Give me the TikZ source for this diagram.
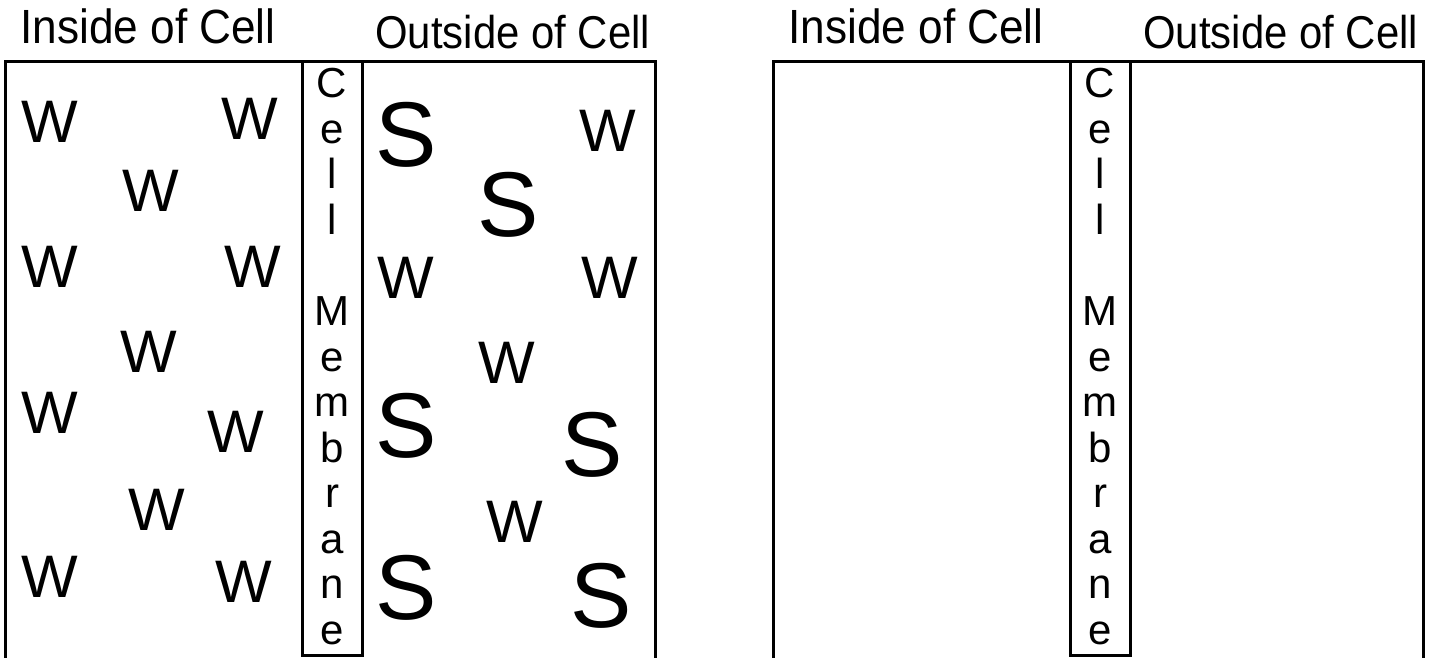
\documentclass[tikz,border=0pt]{standalone}
\usepackage{fontspec}
\setmainfont{Liberation Sans}
\tikzset{
  frame/.style={line width=1.5pt},
  insidelabel/.style={anchor=base west, inner sep=0pt, font=\fontsize{24}{28}\selectfont},
  outsidelabel/.style={anchor=base west, inner sep=0pt, font=\fontsize{23}{27}\selectfont},
  water/.style={anchor=base, inner sep=0pt, font=\fontsize{30}{36}\selectfont},
  solute/.style={anchor=base, inner sep=0pt, font=\fontsize{46}{55}\selectfont},
  memletter/.style={anchor=base, inner sep=0pt, font=\fontsize{21}{25}\selectfont},
}
\begin{document}
\begin{tikzpicture}[x=0.5pt,y=-0.5pt]
  \useasboundingbox (0,0) rectangle (1431,658);
  \def \memx {332}; % milieu de la membrane
  \def \gap {45.5}; % pas entre les lettres
  % deux panneaux, celui de droite reste vide
  \foreach \p/\dx in {a/0,b/768} {
    \draw[frame] ({5+\dx},658) |- ({655+\dx},62) -- ({655+\dx},658);
    \draw[frame] ({302+\dx},62) rectangle ({362+\dx},655);
    \node[insidelabel] (in-\p) at ({20+\dx},44) {\scalebox{0.92}[1]{Inside of Cell}};
    \node[outsidelabel] (out-\p) at ({375+\dx},49) {\scalebox{0.91}[1]{Outside of Cell}};
    \foreach \ch [count=\i] in {C,e,l,l,{},M,e,m,b,r,a,n,e}
      \node[memletter] (mem-\p-\i) at ({\memx+\dx},{98+(\i-1)*\gap}) {\ch};
  }
  % eau dans la cellule
  \foreach \x/\y [count=\i] in {49.5/143, 250/140, 151/212, 49.5/287, 253/287,
      148.5/372, 49.5/433, 235.5/452, 157/530, 49.5/597, 244/602}
    \node[water] (win-\i) at (\x,\y) {W};
  % eau hors de la cellule
  \foreach \x/\y [count=\i] in {608/152, 406/298, 610/298, 507/383, 515/542}
    \node[water] (wout-\i) at (\x,\y) {W};
  % solute hors de la cellule
  \foreach \x/\y [count=\i] in {406/167, 508/236, 406/457, 592/476, 406/619, 601/627}
    \node[solute] (sout-\i) at (\x,\y) {S};
\end{tikzpicture}
\end{document}
